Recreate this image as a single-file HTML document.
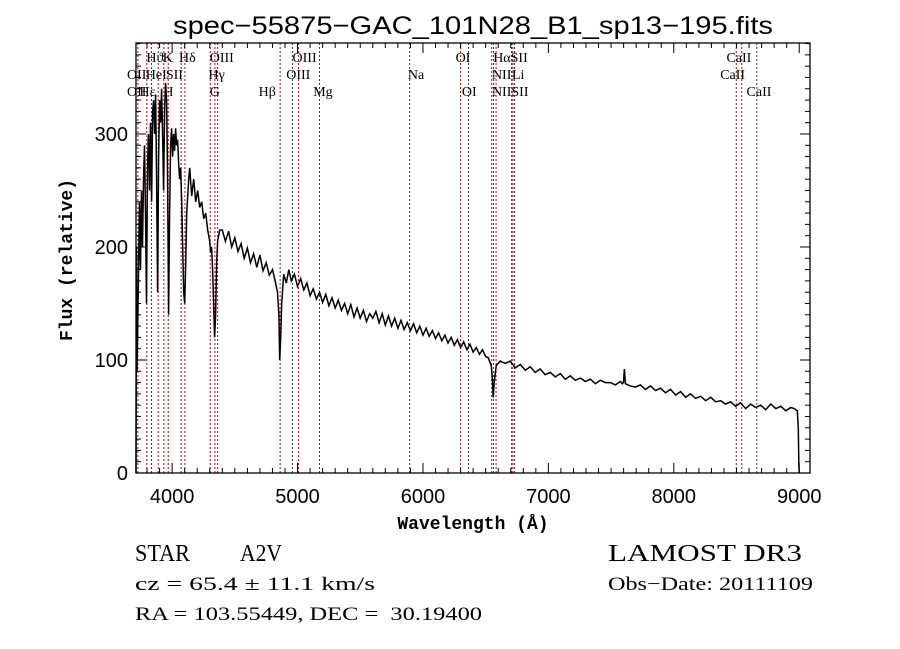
<!DOCTYPE html>
<html><head><meta charset="utf-8"><style>
body{margin:0;background:#fff}
svg{display:block}
text{fill:#000}
</style></head><body>
<svg id="chart" width="900" height="649" viewBox="0 0 900 649" xmlns="http://www.w3.org/2000/svg">
<rect width="900" height="649" fill="#fff"/>
<text x="473" y="34" font-family="Liberation Sans, sans-serif" font-size="25" text-anchor="middle" textLength="600" lengthAdjust="spacingAndGlyphs">spec−55875−GAC_101N28_B1_sp13−195.fits</text>
<g id="lines"></g>
<g id="labels"></g>
<path id="spec" fill="none" stroke="#000" stroke-width="1.5" stroke-linejoin="miter"/>
<rect x="136" y="43" width="674" height="430" fill="none" stroke="#000" stroke-width="1.3"/>
<g id="ticks"></g>
<text x="473" y="529" font-family="Liberation Mono, monospace" font-size="18" font-weight="bold" text-anchor="middle">Wavelength (Å)</text>
<text transform="translate(72,260) rotate(-90)" font-family="Liberation Mono, monospace" font-size="18" font-weight="bold" text-anchor="middle">Flux (relative)</text>
<text x="135" y="561" font-family="Liberation Serif, serif" font-size="24" textLength="55" lengthAdjust="spacingAndGlyphs">STAR</text>
<text x="240" y="561" font-family="Liberation Serif, serif" font-size="24" textLength="42" lengthAdjust="spacingAndGlyphs">A2V</text>
<text x="135" y="590" font-family="Liberation Serif, serif" font-size="19" textLength="240" lengthAdjust="spacingAndGlyphs">cz = 65.4 ± 11.1 km/s</text>
<text x="135" y="620" font-family="Liberation Serif, serif" font-size="19" textLength="347" lengthAdjust="spacingAndGlyphs">RA = 103.55449, DEC =&#160;&#160;30.19400</text>
<text x="608" y="561" font-family="Liberation Serif, serif" font-size="24" textLength="194" lengthAdjust="spacingAndGlyphs">LAMOST DR3</text>
<text x="608" y="590" font-family="Liberation Serif, serif" font-size="19" textLength="205" lengthAdjust="spacingAndGlyphs">Obs−Date: 20111109</text>
</svg>
<script>
const waveBlue = [3712,3716,3720,3731,3740,3748,3756,3764,3772,3780,3788,3796,3804,3812,3820,3828,3836,3844,3852,3860,3868,3876,3884,3892,3900,3908,3916,3924,3932,3940,3948,3956,3964,3972,3980,3988,3996,4004,4012,4020,4028,4036,4044,4052,4060,4068,4076,4084,4092,4100,4108,4116,4132,4140,4156,4172,4188,4204,4220,4236,4252,4268,4284,4300,4307,4315,4323,4331,4339,4347,4355,4363,4379];
const fluxBlue = [0,200,90,170,240,180,250,200,260,290,230,150,270,300,250,310,240,320,330,300,335,260,160,280,330,310,340,300,250,320,345,330,260,140,230,290,305,280,300,285,305,290,295,275,260,270,240,200,160,150,185,230,260,270,245,260,240,250,235,240,225,230,215,205,195,200,180,150,120,140,185,205,215];
const waveMid = [4400,4425,4450,4475,4500,4525,4550,4575,4600,4625,4650,4675,4700,4725,4750,4775,4800,4825,4840,4851,4858,4866,4874,4890,4910,4930,4950,4975,5000,5025,5050,5075,5100,5125,5150,5175,5200,5225,5250,5275,5300,5325,5350,5375,5400,5425,5450,5475,5500,5525,5550,5575];
const fluxMid = [215,205,214,200,208,196,203,190,199,186,194,182,193,179,186,175,180,168,160,140,100,120,150,176,168,180,170,176,165,172,162,168,157,163,154,160,151,158,148,155,146,153,144,150,141,149,138,146,137,144,134,141];
const waveRed = [5600,5625,5650,5675,5700,5725,5750,5775,5800,5825,5850,5875,5900,5925,5950,5975,6000,6025,6050,6075,6100,6125,6150,6175,6200,6225,6250,6275,6300,6325,6350,6375,6400,6425,6450,6475,6500,6520,6544,6552,6560,6568,6584,6616,6656,6696];
const fluxRed = [137,143,133,141,131,139,130,137,128,135,127,133,126,132,124,130,122,128,121,126,119,124,117,122,115,120,113,118,111,116,109,114,107,111,105,109,103,102,95,86,67,80,95,99,97,99];
const waveIR = [6736,6776,6816,6855,6895,6935,6975,7015,7055,7095,7135,7175,7215,7255,7295,7335,7375,7415,7455,7494,7534,7574,7590,7598,7606,7614,7654,7694,7734,7774,7814,7854,7894,7934,7974,8014,8054,8094,8134,8174,8214,8254,8294,8334,8373,8413,8453,8493,8533,8573,8613,8653,8693,8733,8773,8813,8853,8893,8933,8960,8985,8993,8997,9000];
const fluxIR = [93,96,91,94,89,92,87,89,85,88,83,86,82,84,81,83,79,82,80,80,78,81,79,80,92,79,77,76,78,74,77,73,75,71,74,69,72,67,70,66,68,64,67,63,64,61,63,59,62,57,61,58,60,56,61,57,59,55,58,57,55,40,10,0];
const lineWaves = [3727,3798,3835,3889,3934,3969,4072,4102,4304,4341,4363,4861,4959,5007,5175,5894,6300,6363,6548,6563,6583,6707,6717,6731,8498,8542,8662];
const lineColors = ['r','r','k','r','r','r','k','r','r','r','r','r','k','r','r','r','r','k','r','r','r','k','r','k','r','r','k'];
const labelText = ['Hϑ','K','Hδ','OIII','OIII','OI','HαSII','CaII','OII','HeI','SII','Hγ','OIII','Na','NII','Li','CaII','OII','Hε','H','G','Hβ','Mg','OI','NIISII','CaII'];
const labelRow = [0,0,0,0,0,0,0,0,1,1,1,1,1,1,1,1,1,2,2,2,2,2,2,2,2,2];
const labelWave = [3795,3925,4055,4300,4960,6260,6560,8420,3640,3790,3950,4290,4910,5880,6550,6710,8370,3640,3740,3930,4300,4690,5125,6310,6550,8580];
const xTicks = [4000,5000,6000,7000,8000,9000];
const yTicks = [0,100,200,300];

const wave = waveBlue.concat(waveMid, waveRed, waveIR);
const flux = fluxBlue.concat(fluxMid, fluxRed, fluxIR);

const X0=3712,X1=9086,Y0=0,Y1=380.5;
const px0=136,px1=810,py0=473,py1=43;
function sx(v){return px0+(v-X0)/(X1-X0)*(px1-px0);}
function sy(v){return py0-(v-Y0)/(Y1-Y0)*(py0-py1);}
const NS='http://www.w3.org/2000/svg';
function mk(tag,attrs,parent){const e=document.createElementNS(NS,tag);for(const k in attrs)e.setAttribute(k,attrs[k]);parent.appendChild(e);return e;}

let d='';
const n=Math.min(wave.length,flux.length);
for(let i=0;i<n;i++){const x=sx(wave[i]).toFixed(1),y=sy(flux[i]).toFixed(1);d+=(i?'L':'M')+x+' '+y;}
document.getElementById('spec').setAttribute('d',d);

const lg=document.getElementById('lines');
lineWaves.forEach((w,i)=>{
  const l=mk('line',{x1:sx(w),x2:sx(w),y1:py1,y2:py0,stroke:lineColors[i]==='r'?'#c00000':'#303030','stroke-width':1,'stroke-dasharray':'2,2'},lg);
  
  
});
const lb=document.getElementById('labels');
const rowY=[62,79,96];
labelText.forEach((t,i)=>{
  const e=mk('text',{x:sx(labelWave[i]),y:rowY[labelRow[i]],'font-family':'Liberation Serif, serif','font-size':14},lb);
  e.textContent=t;
  
  
});

const tg=document.getElementById('ticks');
for(let w=3800;w<=9000;w+=100){
  const x=sx(w),major=(w%1000===0),len=major?10:5;
  mk('line',{x1:x,x2:x,y1:py0,y2:py0-len,stroke:'#000','stroke-width':1},tg);
  mk('line',{x1:x,x2:x,y1:py1,y2:py1+len,stroke:'#000','stroke-width':1},tg);
}
for(let v=0;v<=380;v+=10){
  const y=sy(v),major=(v%100===0),len=major?10:5;
  mk('line',{x1:px0,x2:px0+len,y1:y,y2:y,stroke:'#000','stroke-width':1},tg);
  mk('line',{x1:px1,x2:px1-len,y1:y,y2:y,stroke:'#000','stroke-width':1},tg);
}
xTicks.forEach(v=>{
  const e=mk('text',{x:sx(v),y:503,'font-family':'Liberation Sans, sans-serif','font-size':20,'text-anchor':'middle'},tg);
  e.textContent=v;
  
  
});
yTicks.forEach(v=>{
  const e=mk('text',{x:128,y:sy(v)+7,'font-family':'Liberation Sans, sans-serif','font-size':20,'text-anchor':'end'},tg);
  e.textContent=v;
  
  
});
</script>
</body></html>
